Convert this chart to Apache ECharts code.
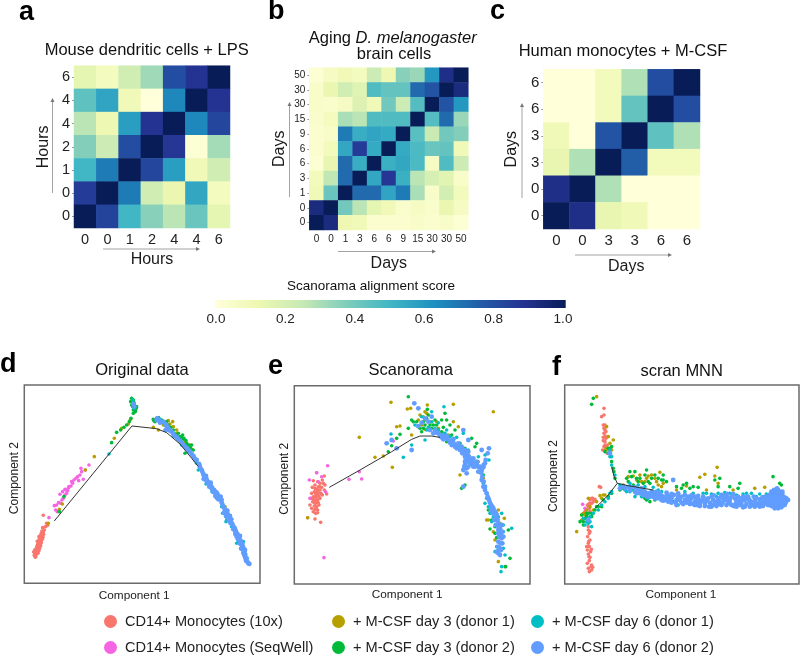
<!DOCTYPE html>
<html><head><meta charset="utf-8">
<style>html,body{margin:0;padding:0;background:#fff}#c{width:800px;height:656px}</style>
<script src="https://cdn.jsdelivr.net/npm/echarts@6/dist/echarts.min.js"></script>
</head><body><div id="c"></div>
<script>
// Heatmap values, rows listed top to bottom
const aLabels = ['0','0','1','2','4','4','6'];
const aMatrix = [
[.15,.08,.22,.32,.80,.88,1],
[.44,.56,.10,0,.65,1,.88],
[.27,.12,.58,.88,1,.65,.82],
[.37,.23,.80,1,.87,.02,.31],
[.50,.68,1,.82,.58,.10,.22],
[.85,1,.68,.22,.13,.55,.08],
[1,.83,.50,.36,.27,.42,.15]];
const bLabels = ['0','0','1','3','6','6','9','15','30','30','50'];
const bMatrix = [
[.02,.07,.10,.08,.23,.12,.36,.33,.60,.90,1],
[.05,.13,.22,.17,.47,.43,.43,.72,.78,1,.92],
[.05,.04,.07,.18,.10,.40,.23,.46,1,.78,.60],
[.04,.08,.30,.27,.47,.47,.47,1,.46,.72,.33],
[.03,.05,.68,.53,.56,.54,1,.45,.24,.40,.37],
[.03,.09,.55,.85,.54,1,.54,.48,.42,.43,.10],
[.02,.14,.72,.53,1,.52,.55,.48,.07,.47,.23],
[.09,.26,.72,1,.55,.87,.52,.27,.20,.16,.05],
[.10,.42,1,.72,.72,.56,.68,.30,.05,.21,.09],
[.92,1,.40,.27,.15,.10,.04,.07,.04,.13,.07],
[1,.92,.12,.10,.03,.03,.03,.05,.03,.05,.02]];
const cLabels = ['0','0','3','3','6','6'];
const cMatrix = [
[0,0,.09,.29,.80,1],
[0,0,.09,.43,1,.80],
[.10,0,.78,1,.44,.29],
[.14,.29,1,.75,.09,.09],
[.90,1,.29,0,0,0],
[1,.90,.14,.10,0,0]];
const scoreTicks = [0,.2,.4,.6,.8,1];
const heatColors = ['#ffffd9','#edf8b1','#c7e9b4','#7fcdbb','#41b6c4','#1d91c0','#225ea8','#253494','#081d58'];

const names = ['CD14+ Monocytes (10x)','CD14+ Monocytes (SeqWell)','+ M-CSF day 3 (donor 1)','+ M-CSF day 3 (donor 2)','+ M-CSF day 6 (donor 1)','+ M-CSF day 6 (donor 2)'];
const colors = ['#F8766D','#F564E3','#B79F00','#00BA38','#00BFC4','#619CFF'];

// Panel d: Original data
const dRed = [[130,546],[127,552],[124,550],[122,556],[128,558],[120,562],[125,564],[118,568],[123,570],[116,574],[121,576],[127,568],[114,580],[119,582],[124,578],[112,586],[117,588],[122,586],[110,592],[115,594],[120,592],[108,598],[113,600],[118,598],[107,604],[111,606],[116,604],[105,610],[110,612],[114,610],[103,616],[108,618],[106,622],[101,606],[104,600],[112,574],[117,560],[130,496],[128,533],[140,520],[137,530],[126,543],[133,540],[143,526],[126,558],[131,553],[119,575],[124,572],[115,587],[111,599],[108,610],[120,586],[117,594],[113,592],[122,565],[118,580],[109,604],[105,616],[129,562],[125,556],[112,605],[116,598],[121,570],[127,548]];
const dMag = [[147,503],[163,467],[170,465],[167,480],[172,485],[180,433],[182,460],[176,458],[186,450],[190,445],[188,425],[195,435],[198,420],[200,430],[205,415],[207,410],[215,395],[213,408],[222,390],[228,385],[233,380],[236,392],[240,375],[243,355],[245,365],[250,388],[256,360],[267,345],[195,418],[203,422],[218,400]];
const dGold = [[283,320],[256,360],[145,520],[187,462],[178,478],[343,265],[365,235],[385,222],[392,208],[460,232],[505,212],[510,222],[518,215],[475,240],[490,225],[530,240],[530,250],[545,265],[558,285],[575,298],[520,230],[675,470],[462,210],[480,215],[500,240],[555,275],[570,285],[590,330],[600,345]];
const dGreen = [[192,440],[178,485],[335,278],[350,247],[362,240],[372,232],[380,225],[388,215],[393,205],[395,145],[400,150],[403,165],[407,180],[392,155],[405,172],[410,170],[400,190],[460,208],[470,205],[480,215],[495,225],[505,235],[515,245],[530,255],[540,260],[550,268],[560,280],[570,290],[555,310],[580,300],[465,215],[475,207],[500,215],[520,240],[535,250],[545,262],[548,255],[558,272],[575,285],[397,150],[402,158],[395,165],[406,185],[408,175],[400,180],[398,170],[462,212],[468,210],[476,203],[485,210],[490,218],[505,225],[512,232],[522,250],[538,262],[552,265],[565,285],[572,295]];
const dTeal = [[327,312],[400,160],[402,175],[398,150],[480,208],[495,240],[520,258],[545,285],[565,305],[585,325],[595,360],[610,375],[625,395],[640,425],[665,470],[680,510],[705,545],[715,575],[730,590],[735,610],[745,640],[600,350],[590,340],[610,388],[618,402],[636,425],[650,445],[668,490],[678,515],[695,530],[710,580],[722,595],[730,575]];
const dBlue = [[400,162],[403,170],[470,210],[478,212],[495,222],[505,235],[515,245],[525,258],[535,268],[545,278],[555,290],[565,300],[575,312],[582,322],[590,330],[597,342],[605,360],[610,372],[616,380],[620,388],[626,398],[632,405],[636,412],[642,420],[648,428],[654,436],[660,448],[665,458],[672,472],[676,482],[682,490],[688,502],[692,510],[696,520],[703,532],[708,545],[712,552],[718,562],[722,572],[727,582],[730,594],[733,604],[736,614],[740,625],[748,642],[614,388],[622,398],[628,410],[638,422],[646,438],[655,448],[672,488],[678,498],[686,512],[700,538],[706,552],[714,568],[720,580],[726,596],[732,612],[736,624],[618,378],[632,398],[650,428],[665,450],[682,482],[694,508],[720,558],[472,205],[480,218],[490,215],[500,228],[498,240],[510,242],[520,252],[530,262],[540,272],[550,285],[560,295],[570,305],[580,318],[587,330],[600,352],[607,365],[612,378],[612,385],[620,392],[628,402],[634,414],[640,426],[645,424],[652,432],[658,445],[662,440],[668,465],[675,478],[680,500],[684,496],[690,498],[698,525],[692,520],[706,540],[710,560],[716,560],[722,582],[728,590],[724,596],[734,618],[738,632],[742,635],[745,640],[730,608],[735,600]];
const dLine = [[163,513],[396,228],[470,236],[500,248],[540,282],[575,325],[595,350]];

// Panel e: Scanorama
const eRed = [[155,368],[145,392],[158,395],[178,378],[172,390],[165,400],[150,405],[142,412],[160,410],[175,400],[180,405],[155,418],[148,425],[165,420],[170,412],[140,430],[152,432],[160,428],[168,430],[145,440],[155,442],[162,438],[172,435],[138,445],[150,450],[158,450],[165,445],[143,455],[152,460],[160,458],[135,465],[148,468],[155,470],[162,465],[140,475],[150,478],[158,480],[145,485],[152,490],[158,488],[128,503],[150,507],[167,517],[185,432],[178,420],[150,415],[158,435],[146,448],[164,410],[154,425],[160,420],[150,440],[156,455],[148,458],[154,478]];
const eMag = [[188,347],[155,368],[135,445],[133,390],[252,388],[283,365],[290,387],[177,623],[385,273],[170,380],[182,425],[160,395]];
const eGold = [[378,157],[427,177],[437,175],[487,165],[565,163],[685,185],[283,262],[330,322],[355,318],[382,352],[395,230],[128,503],[405,228],[440,255],[460,210],[470,225],[485,190],[500,215],[520,235],[565,215],[580,230],[585,375],[640,335],[670,510],[700,480],[718,505],[690,570],[700,635],[720,650],[665,510],[480,238],[550,255],[610,315],[655,385],[465,195],[475,200],[480,210],[515,215],[535,250],[590,300],[660,420],[695,490],[705,520],[685,545],[480,185]];
const eGreen = [[430,140],[487,178],[540,190],[405,253],[395,265],[380,287],[370,305],[445,215],[430,235],[465,235],[480,225],[500,235],[515,225],[530,210],[545,210],[555,225],[570,240],[600,405],[590,415],[620,265],[635,280],[630,290],[675,537],[690,550],[695,563],[730,540],[735,625],[722,650],[490,195],[510,210],[470,245],[545,275],[600,310],[650,365],[440,210],[475,215],[495,225],[530,245],[455,215],[460,230],[475,235],[485,205],[495,240],[505,225],[520,240],[535,232],[560,255],[585,280],[600,295],[610,335],[655,375],[680,510],[690,530],[670,480]];
const eTeal = [[537,170],[378,252],[415,322],[440,285],[480,270],[500,185],[520,218],[555,260],[595,250],[610,300],[660,315],[672,330],[660,460],[680,470],[710,490],[740,535],[710,650],[708,665],[700,600],[720,615],[665,430],[680,515],[715,525],[450,225],[470,200],[490,232],[510,235],[545,240],[575,262],[640,320],[655,400],[665,445],[670,470],[675,490],[685,500],[700,500],[715,545],[695,590],[715,595],[690,605],[585,295],[605,325],[620,345],[500,215],[485,240],[520,240],[540,250],[565,265]];
const eBlue = [[448,160],[460,175],[380,270],[365,280],[395,295],[440,300],[500,200],[490,215],[480,205],[595,410],[595,240],[610,270],[650,300],[672,295],[668,310],[662,330],[656,345],[650,360],[510,240],[520,250],[532,255],[540,262],[548,268],[556,272],[565,278],[572,285],[580,290],[588,298],[596,305],[604,312],[612,320],[620,330],[628,338],[636,345],[642,352],[648,368],[652,380],[656,395],[660,410],[665,430],[670,445],[675,458],[682,470],[686,482],[690,495],[695,508],[700,520],[705,535],[708,550],[710,565],[708,580],[705,595],[700,610],[692,500],[684,490],[700,540],[702,560],[600,345],[605,370],[602,332],[610,335],[595,360],[615,340],[625,350],[530,262],[560,285],[575,295],[592,310],[608,325],[470,218],[460,228],[495,240],[505,250],[515,248],[525,258],[535,268],[545,258],[555,278],[565,268],[570,290],[580,280],[585,300],[590,290],[600,300],[600,320],[610,305],[615,325],[625,325],[625,340],[635,335],[630,350],[645,350],[640,365],[600,335],[605,355],[598,350],[610,350],[655,352],[660,340],[650,390],[655,410],[660,420],[668,440],[672,450],[678,465],[678,480],[685,475],[690,485],[695,495],[698,510],[688,510],[692,525],[700,530],[710,525],[712,545],[700,550],[705,560],[715,560],[700,575],[712,580],[700,590],[708,600],[695,605],[705,615]];
const eLine = [[193,412],[285,360],[380,305],[440,268],[465,258],[500,258],[525,262]];

// Panel f: scran MNN
const fRed = [[222,175],[222,195],[215,200],[225,225],[225,240],[222,250],[228,265],[225,275],[222,290],[228,300],[232,310],[208,410],[212,412],[175,540],[178,550],[173,560],[180,570],[175,580],[178,590],[172,600],[182,605],[175,612],[180,622],[178,632],[185,645],[175,655],[183,650],[178,665],[185,660],[185,445],[180,460],[175,470],[170,480],[190,455],[180,450],[176,462],[222,235],[226,258],[220,272],[232,285],[220,225],[225,232],[228,245],[220,262],[225,285],[218,300],[230,292],[235,300],[185,460],[178,475],[172,465],[188,445],[195,448],[180,485],[170,495],[165,485],[175,530],[180,545],[176,575],[184,598],[170,590],[177,620],[172,640],[188,652]];
const fMag = [[158,463],[165,475]];
const fGold = [[200,140],[230,230],[250,270],[240,280],[225,300],[140,545],[160,490],[155,510],[210,437],[220,435],[190,480],[295,380],[310,378],[330,375],[350,385],[355,378],[390,367],[400,400],[380,395],[510,382],[525,373],[555,378],[562,352],[565,400],[610,420],[675,415],[645,468],[470,408],[440,420],[705,412],[175,445],[165,495],[320,390],[335,395],[345,395],[365,375],[375,385],[385,405],[395,410],[280,405],[235,260],[245,300],[230,295],[155,495],[170,480],[180,470],[200,455],[215,445],[225,435],[530,420]];
const fGreen = [[185,163],[190,145],[245,290],[240,310],[245,335],[252,365],[255,385],[160,515],[150,515],[170,490],[185,490],[205,470],[235,440],[245,430],[300,365],[315,365],[290,385],[320,385],[350,360],[365,385],[375,375],[400,375],[350,450],[375,450],[490,410],[460,405],[480,415],[555,390],[570,385],[565,410],[600,410],[630,400],[730,380],[750,400],[755,405],[625,415],[280,415],[270,420],[340,440],[340,400],[325,395],[310,405],[360,400],[395,390],[295,395],[305,380],[330,385],[345,375],[355,395],[385,385],[400,390],[410,395],[440,410],[455,415],[470,400],[505,412],[345,445],[360,455],[250,355],[235,295],[225,305],[240,295],[165,505],[175,490],[200,470],[215,470],[220,450],[155,495],[160,525],[170,500],[185,500],[195,480]];
const fTeal = [[240,320],[245,345],[175,520],[180,500],[185,530],[270,405],[285,420],[320,415],[340,420],[360,430],[380,435],[420,440],[450,440],[480,445],[530,430],[560,440],[620,435],[650,430],[680,440],[700,440],[255,375],[240,430],[300,410],[330,425],[370,425],[400,445],[300,425],[350,435],[175,505],[165,525],[300,400],[310,420],[325,405],[335,440],[345,410],[355,445],[370,412],[385,420],[395,425],[410,450],[430,455],[445,465],[465,425],[490,430],[505,460],[520,430],[545,432],[565,430],[585,428],[600,430],[640,432],[665,430],[690,432],[710,432],[275,410],[290,425],[315,440],[380,445],[245,425],[235,445],[225,455],[215,465],[205,480],[190,490],[180,515],[170,515],[160,505],[240,300],[235,310],[245,320]];
const fBlue = [[430,390],[240,310],[175,510],[270,415],[285,415],[300,420],[315,425],[330,430],[345,425],[360,440],[375,430],[390,430],[400,440],[412,435],[425,445],[440,450],[455,440],[470,448],[485,445],[495,455],[510,450],[520,440],[535,445],[550,450],[565,445],[575,435],[590,440],[600,450],[615,445],[630,455],[645,450],[660,455],[675,452],[690,448],[705,445],[715,440],[725,435],[735,425],[745,420],[740,445],[750,450],[760,448],[770,450],[730,445],[725,460],[738,472],[745,465],[755,460],[715,455],[700,460],[685,460],[670,465],[650,462],[635,462],[618,460],[600,460],[585,450],[570,455],[555,462],[540,458],[525,460],[510,462],[495,440],[480,455],[465,435],[445,440],[420,452],[405,450],[385,445],[365,425],[350,440],[335,415],[318,412],[735,440],[745,435],[755,440],[735,455],[720,448],[610,432],[640,440],[655,440],[672,440],[580,445],[280,410],[290,412],[305,412],[325,418],[340,435],[355,430],[370,440],[380,425],[395,438],[410,428],[418,445],[432,435],[438,458],[450,450],[460,462],[475,440],[490,462],[500,450],[505,438],[518,452],[530,452],[545,440],[548,465],[560,455],[572,442],[578,458],[592,432],[595,455],[605,440],[612,468],[625,440],[628,465],[640,450],[645,470],[658,448],[665,465],[680,445],[682,465],[695,455],[698,442],[710,450],[712,462],[722,440],[728,452],[735,435],[732,465],[740,425],[742,455],[748,430],[750,440],[752,468],[758,432],[762,455],[765,442],[768,458],[728,430],[718,435],[745,475],[755,450],[760,465],[740,438],[725,445],[735,450],[745,445],[410,445],[425,432],[445,430],[465,450],[485,436],[502,465],[522,445],[538,470],[552,436],[568,462],[585,438],[598,445],[620,450],[632,445],[648,442],[663,455],[678,458],[692,462],[705,455],[725,425],[733,420],[742,415],[750,425],[758,425],[770,445],[775,450],[765,465],[755,472],[745,470],[735,475],[725,468],[715,465],[708,440],[700,468],[690,470],[675,470],[660,470],[640,472],[620,470],[605,465],[590,465],[575,465],[560,468],[545,470],[525,468],[510,468],[495,465],[480,462],[470,458],[455,458],[440,465],[425,458],[415,455],[400,452],[395,450],[385,438],[375,445],[365,435],[340,425],[330,420],[320,430]];
const fLineA = [[245,350],[252,378],[262,400],[300,408],[370,420]];
const fLineB = [[262,400],[235,435],[195,475]];

const hm = (m)=>{const n=m.length,o=[];m.forEach((r,i)=>r.forEach((v,j)=>o.push([j,n-1-i,v])));return o;};
const base='"Liberation Sans",Arial,sans-serif';
const grids=[
 {left:74,top:65.7,width:156,height:162.3},
 {left:309.3,top:67.7,width:159,height:162.3},
 {left:543.3,top:69.3,width:156.7,height:159.7},
 {left:216,top:300,width:347,height:8},
 {left:24.3,top:385,width:235.7,height:198.3,show:true,borderColor:'#6b6b6b',borderWidth:1.5},
 {left:294.3,top:385.7,width:235.7,height:198.3,show:true,borderColor:'#6b6b6b',borderWidth:1.5},
 {left:564.7,top:385,width:234.3,height:199,show:true,borderColor:'#6b6b6b',borderWidth:1.5}];
const catAxis=(grid,labels,name,fs,nameGap,pad,ticks)=>({gridIndex:grid,type:'category',data:labels,name,nameLocation:'middle',nameGap,
 nameTextStyle:{fontFamily:base,fontSize:16,color:'#1a1a1a',padding:pad||0},
 axisLine:{show:false},axisTick:{show:!!ticks,alignWithLabel:true,length:2,lineStyle:{color:'#999'}},splitLine:{show:false},
 axisLabel:{interval:0,margin:4,fontFamily:base,fontSize:fs,color:'#222'}});
const scX=(grid,min,max,nameGap,pad)=>({gridIndex:grid,type:'value',min,max,name:'Component 1',nameLocation:'middle',nameGap,
 nameTextStyle:{fontFamily:base,fontSize:11.8,color:'#222',padding:pad},
 axisLine:{show:false},axisTick:{show:false},axisLabel:{show:false},splitLine:{show:false}});
const scY=(grid,min,max,nameGap,pad)=>({gridIndex:grid,type:'value',min,max,inverse:true,name:'Component 2',nameLocation:'middle',nameGap,
 nameTextStyle:{fontFamily:base,fontSize:12,color:'#222',padding:pad},
 axisLine:{show:false},axisTick:{show:false},axisLabel:{show:false},splitLine:{show:false}});
const xAxis=[
 catAxis(0,aLabels,'Hours',14.5,24),
 catAxis(1,bLabels,'Days',10,26),
 catAxis(2,cLabels,'Days',15,30,[0,0,0,9]),
 {gridIndex:3,type:'value',min:0,max:1,interval:.2,axisLine:{show:false},axisTick:{show:false},splitLine:{show:false},
  axisLabel:{margin:4,fontFamily:base,fontSize:13.5,color:'#222',formatter:v=>v.toFixed(1),hideOverlap:false}},
 scX(4,73,780,6,[0,16,0,0]),scX(5,88,795,5,[0,10,0,0]),scX(6,104,808,5,[0,2,0,0])];
const yAxis=[
 catAxis(0,aLabels,'Hours',14.5,22,0,true),
 catAxis(1,bLabels,'Days',10,22,0,true),
 catAxis(2,cLabels,'Days',15,24,0,true),
 {gridIndex:3,type:'value',show:false,min:0,max:1},
 scY(4,105,700,4,[0,0,0,12]),scY(5,107,702,4,[0,0,0,12]),scY(6,105,702,4.7,[0,0,0,17])];
const series=[];
[aMatrix,bMatrix,cMatrix].forEach((m,i)=>series.push({type:'heatmap',xAxisIndex:i,yAxisIndex:i,data:hm(m),silent:true}));
series.push({type:'scatter',xAxisIndex:3,yAxisIndex:3,data:[],silent:true});
[[dRed,dMag,dGold,dGreen,dTeal,dBlue],[eRed,eMag,eGold,eGreen,eTeal,eBlue],[fRed,fMag,fGold,fGreen,fTeal,fBlue]].forEach((sets,p)=>{
 sets.forEach((pts,k)=>series.push({type:'scatter',name:names[k],xAxisIndex:4+p,yAxisIndex:4+p,data:pts,symbolSize:k===5?4.8:3.6,silent:true,itemStyle:{color:colors[k],opacity:1}}));
});
const ln=(ax,d)=>({type:'line',xAxisIndex:ax,yAxisIndex:ax,data:d,symbol:'none',silent:true,z:5,lineStyle:{color:'#333',width:1}});
series.push(ln(4,dLine),ln(5,eLine),ln(6,fLineA),ln(6,fLineB));

const t=(text,x,y,fs,extra)=>({text,left:x,top:y,textAlign:'center',textVerticalAlign:'middle',padding:0,
 textStyle:Object.assign({fontFamily:base,fontSize:fs,fontWeight:'normal',color:'#111'},extra||{})});
const letter=(s,x,y)=>({text:s,left:x,top:y,padding:0,textVerticalAlign:'middle',textStyle:{fontFamily:base,fontSize:27,fontWeight:'bold',color:'#000'}});
const title=[
 t('Mouse dendritic cells + LPS',146.7,50,16.5),
 t('Aging {i|D. melanogaster}',392.7,38,16.5),
 t('brain cells',394,54.5,16.5),
 t('Human monocytes + M-CSF',623,51,16.5),
 t('Scanorama alignment score',371,286,13.5),
 t('Original data',142,370,16.5),
 t('Scanorama',410.7,370,16.5),
 t('scran MNN',681.7,371,16.5),
 letter('a',19,13),letter('b',268,12),letter('c',490,12),letter('d',0,365),letter('e',268,367),letter('f',552,368)];
title[1].textStyle.rich={i:{fontFamily:base,fontSize:16.5,fontStyle:'italic',color:'#111'}};

const arrow=(x1,y1,x2,y2)=>{const dx=Math.sign(x2-x1),dy=Math.sign(y2-y1);
 return [{type:'line',silent:true,shape:{x1,y1,x2,y2},style:{stroke:'#a3a3a3',lineWidth:1}},
 {type:'polygon',silent:true,shape:{points:[[x2+dx*2,y2+dy*2],[x2-dx*2+dy*2,y2-dy*2+dx*2],[x2-dx*2-dy*2,y2-dy*2-dx*2]]},style:{fill:'#777'}}];};
const colorBar={type:'rect',silent:true,shape:{x:215,y:300,width:350.7,height:8},style:{fill:new echarts.graphic.LinearGradient(0,0,1,0,heatColors.map((color,i)=>({offset:i/(heatColors.length-1),color})))}};
const graphic=[colorBar].concat(arrow(103,249,198,249),arrow(52.5,193,52.5,100),arrow(338,251.5,434,251.5),arrow(289.5,197,289.5,104),arrow(575,255,670,255),arrow(522,198,522,105));
const legendLefts=[104,104,332,332,531,531];
const legendTops=[614,640,614,640,614,640];
const legend=names.map((n,i)=>({data:[n],left:legendLefts[i],top:legendTops[i],orient:'horizontal',itemWidth:13,itemHeight:13,icon:'circle',selectedMode:false,padding:0,
 textStyle:{fontFamily:base,fontSize:14.6,color:'#222',padding:[0,0,0,3]}}));

const chart=echarts.init(document.getElementById('c'),null,{renderer:'canvas'});
chart.setOption({animation:false,backgroundColor:'#fff',grid:grids,xAxis,yAxis,series,title,graphic,legend,
 visualMap:{type:'continuous',show:false,min:0,max:1,seriesIndex:[0,1,2],inRange:{color:heatColors}}
});
</script></body></html>
